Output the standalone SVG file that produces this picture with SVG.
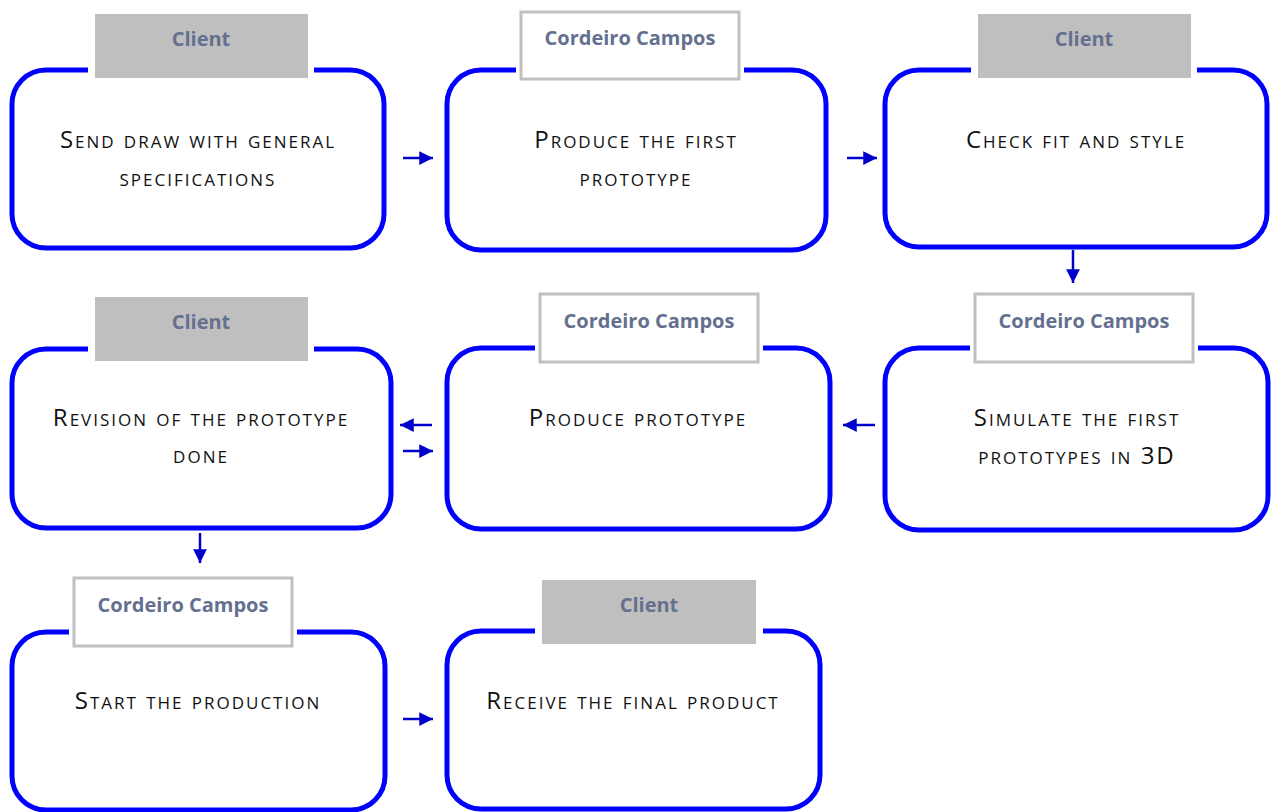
<svg xmlns="http://www.w3.org/2000/svg" width="1271" height="812" viewBox="0 0 1271 812">
<style>
.box{fill:#fff;stroke:#0000ff;stroke-width:5}
.pad{fill:#fff;stroke:none}
.lg{fill:#bfbfbf;stroke:none}
.lw{fill:#fff;stroke:#c0c0c0;stroke-width:3}
.lt{font-family:"Open Sans","Liberation Sans",sans-serif;font-weight:bold;font-size:20px;fill:#64708f;text-anchor:middle}
.bt{font-family:"Open Sans","Liberation Sans",sans-serif;font-size:24px;font-variant:small-caps;letter-spacing:2px;fill:#111;text-anchor:middle}
.ar{stroke:#0000cc;stroke-width:2.5;fill:none}
</style>
<defs>
<marker id="ah" viewBox="0 0 10 10" refX="10" refY="5" markerWidth="5.5" markerHeight="5.5" markerUnits="strokeWidth" orient="auto">
<path d="M0,0 L10,5 L0,10 z" fill="#0000cc"/>
</marker>
</defs>
<g id="n1">
<rect class="box" x="12" y="70" width="372" height="178" rx="34"/>
<rect class="pad" x="88" y="10" width="226" height="72"/>
<rect class="lg" x="95" y="14" width="213" height="64"/>
<text class="lt" x="201" y="46">Client</text>
<text class="bt" x="198" y="148">Send draw with general</text>
<text class="bt" x="198" y="186">specifications</text>
</g>
<g id="n2">
<rect class="box" x="447" y="70" width="379" height="180" rx="34"/>
<rect class="pad" x="516" y="8" width="228" height="76"/>
<rect class="lw" x="521" y="12" width="218" height="67"/>
<text class="lt" x="630" y="45">Cordeiro Campos</text>
<text class="bt" x="636" y="148">Produce the first</text>
<text class="bt" x="636" y="186">prototype</text>
</g>
<g id="n3">
<rect class="box" x="885" y="70" width="382" height="177" rx="34"/>
<rect class="pad" x="971" y="10" width="226" height="72"/>
<rect class="lg" x="978" y="14" width="213" height="64"/>
<text class="lt" x="1084" y="46">Client</text>
<text class="bt" x="1076" y="148">Check fit and style</text>
</g>
<g id="n4">
<rect class="box" x="12" y="349" width="379" height="179" rx="34"/>
<rect class="pad" x="88" y="293" width="226" height="72"/>
<rect class="lg" x="95" y="297" width="213" height="64"/>
<text class="lt" x="201" y="329">Client</text>
<text class="bt" x="201" y="426">Revision of the prototype</text>
<text class="bt" x="201" y="463">done</text>
</g>
<g id="n5">
<rect class="box" x="447" y="348" width="383" height="181" rx="34"/>
<rect class="pad" x="535" y="289" width="228" height="78"/>
<rect class="lw" x="540" y="294" width="218" height="68"/>
<text class="lt" x="649" y="328">Cordeiro Campos</text>
<text class="bt" x="638" y="426">Produce prototype</text>
</g>
<g id="n6">
<rect class="box" x="885" y="348" width="383" height="182" rx="34"/>
<rect class="pad" x="970" y="289" width="228" height="78"/>
<rect class="lw" x="975" y="294" width="218" height="68"/>
<text class="lt" x="1084" y="328">Cordeiro Campos</text>
<text class="bt" x="1077" y="426">Simulate the first</text>
<text class="bt" x="1077" y="464">prototypes in 3D</text>
</g>
<g id="n7">
<rect class="box" x="12" y="632" width="373" height="178" rx="34"/>
<rect class="pad" x="69" y="573" width="228" height="78"/>
<rect class="lw" x="74" y="578" width="218" height="68"/>
<text class="lt" x="183" y="612">Cordeiro Campos</text>
<text class="bt" x="198" y="709">Start the production</text>
</g>
<g id="n8">
<rect class="box" x="447" y="631" width="373" height="178" rx="34"/>
<rect class="pad" x="535" y="576" width="228" height="72"/>
<rect class="lg" x="542" y="580" width="214" height="64"/>
<text class="lt" x="649" y="612">Client</text>
<text class="bt" x="633" y="709">Receive the final product</text>
</g>
<g id="connectors">
<line class="ar" x1="403" y1="158" x2="433" y2="158" marker-end="url(#ah)"/>
<line class="ar" x1="847" y1="158" x2="877" y2="158" marker-end="url(#ah)"/>
<line class="ar" x1="1073" y1="250" x2="1073" y2="283" marker-end="url(#ah)"/>
<line class="ar" x1="875" y1="425" x2="843" y2="425" marker-end="url(#ah)"/>
<line class="ar" x1="432" y1="425" x2="400" y2="425" marker-end="url(#ah)"/>
<line class="ar" x1="403" y1="451" x2="433" y2="451" marker-end="url(#ah)"/>
<line class="ar" x1="200" y1="533" x2="200" y2="563" marker-end="url(#ah)"/>
<line class="ar" x1="403" y1="719" x2="433" y2="719" marker-end="url(#ah)"/>
</g>
</svg>
